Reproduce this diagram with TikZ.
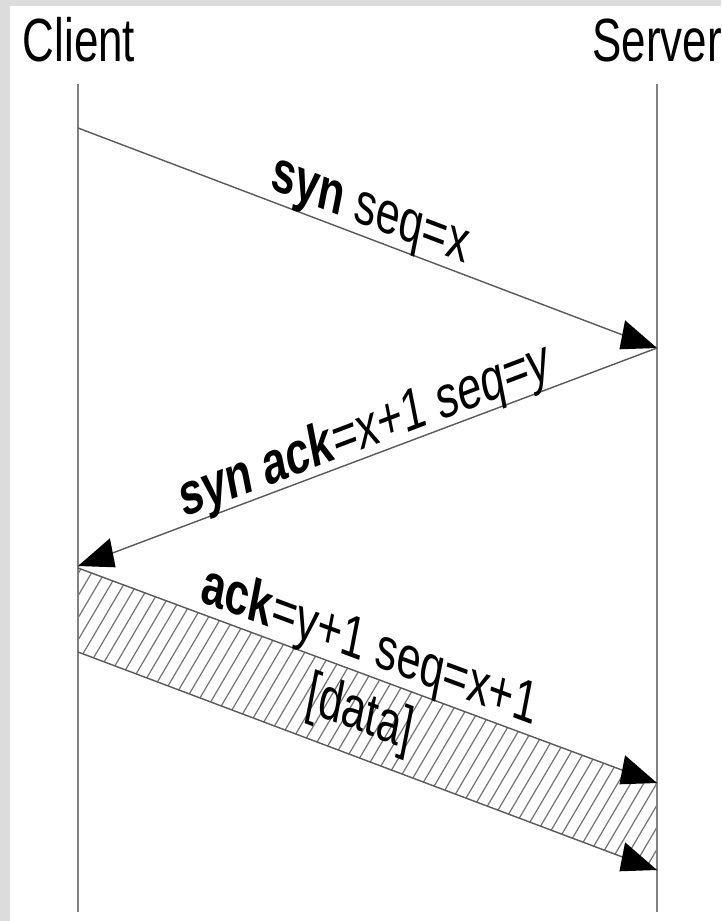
\documentclass[tikz,border=0pt]{standalone}
\usepackage{fontspec}
\setmainfont{Liberation Sans}
\definecolor{bordergray}{HTML}{DCDCDC}
\begin{document}
\begin{tikzpicture}[x=1pt,y=-1pt,
  lifeline/.style={draw=black!50, line width=1.4pt},
  msg/.style={draw=black!65, line width=1.4pt},
  hatchline/.style={draw=black!55, line width=1.2pt},
  title/.style={font=\fontsize{61}{70}\selectfont, inner sep=0pt, anchor=base, transform shape},
  lbl/.style={font=\fontsize{60}{70}\selectfont, inner sep=0pt, anchor=base, transform shape},
  headR/.pic={\fill[black] (0,0) -- (-31.9,-27.7) -- (-37.6,1.3) -- cycle;},
  headL/.pic={\fill[black] (0,0) -- (31.9,-27.7) -- (37.6,1.3) -- cycle;}]

% canvas and grey frame
\fill[white] (0,0) rectangle (721,921);
\fill[bordergray] (0,0) rectangle (10,921);
\fill[bordergray] (0,0) rectangle (721,6);
\useasboundingbox (0,0) rectangle (721,921);

% named points
\coordinate (cTop) at (78,84);
\coordinate (cBot) at (78,912);
\coordinate (sTop) at (657,84);
\coordinate (sBot) at (657,912);
\coordinate (a1s) at (78,128);
\coordinate (a1e) at (657,348);
\coordinate (a2e) at (78,566);
\coordinate (b1s) at (78,568);
\coordinate (b1e) at (657,783);
\coordinate (b2s) at (78,652);
\coordinate (b2e) at (657,870);

% titles
\begin{scope}[shift={(79,61)}, xscale=0.72]
  \node[title] (client) at (0,0) {Client};
\end{scope}
\begin{scope}[shift={(657,61)}, xscale=0.72]
  \node[title] (server) at (0,0) {Server};
\end{scope}

% hatched data band
\begin{scope}
  \clip (b1s) -- (b1e) -- (b2e) -- (b2s) -- cycle;
  \foreach \i in {0,...,70} {
    \draw[hatchline] ({-160+13*\i},890) -- ++(200,-340);
  }
\end{scope}

% lifelines
\draw[lifeline] (cTop) -- (cBot);
\draw[lifeline] (sTop) -- (sBot);

% messages
\draw[msg] (a1s) -- (a1e);
\pic at (a1e) {headR};
\draw[msg] (a1e) -- (a2e);
\pic at (a2e) {headL};
\draw[msg] (b1s) -- (b1e);
\pic at (b1e) {headR};
\draw[msg] (b2s) -- (b2e);
\pic at (b2e) {headR};

% labels
\begin{scope}[shift={(367,226)}, xscale=0.72]
  \node[lbl, rotate=-15.3] (l1) at (0,0) {\textbf{syn} seq=x};
\end{scope}
\begin{scope}[shift={(367.9,447.5)}, xscale=0.72]
  \node[lbl, rotate=15.3] (l2) at (0,0) {\textbf{syn ack}=x+1 seq=y};
\end{scope}
\begin{scope}[shift={(366.5,663.2)}, xscale=0.72]
  \node[lbl, rotate=-15] (l3) at (0,0) {\textbf{ack}=y+1 seq=x+1};
\end{scope}
\begin{scope}[shift={(360,715.5)}, xscale=0.72]
  \node[lbl, anchor=center, rotate=-15.1] (l4) at (0,0) {[data]};
\end{scope}
\end{tikzpicture}
\end{document}
